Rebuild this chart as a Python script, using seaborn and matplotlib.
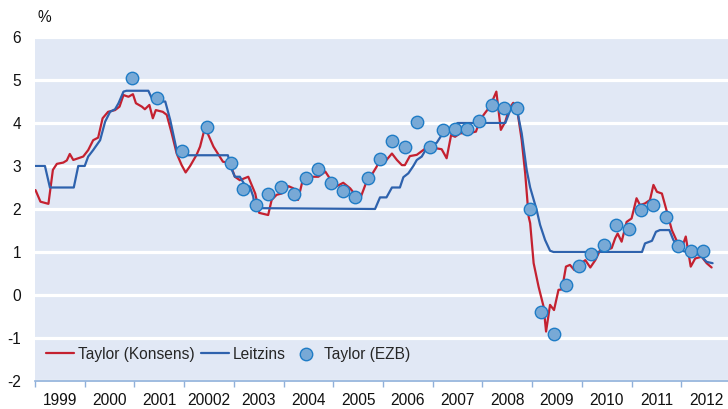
import matplotlib
matplotlib.use("Agg")
import matplotlib.pyplot as plt
import seaborn as sns

# Taylor-Zins (Konsens), time in decimal years
konsens_t = [1999.01, 1999.11, 1999.27, 1999.36, 1999.44, 1999.57, 1999.64, 1999.70, 1999.77, 1999.87,
             1999.97, 2000.07, 2000.17, 2000.27, 2000.36, 2000.47, 2000.61, 2000.70, 2000.78, 2000.88,
             2000.97, 2001.03, 2001.15, 2001.21, 2001.30, 2001.37, 2001.43, 2001.57, 2001.65, 2001.75,
             2001.85, 2001.95, 2002.03, 2002.12, 2002.25, 2002.32, 2002.42, 2002.59, 2002.78, 2002.92,
             2003.02, 2003.12, 2003.29, 2003.43, 2003.51, 2003.69, 2003.76, 2003.86, 2003.96, 2004.10,
             2004.20, 2004.29, 2004.37, 2004.45, 2004.70, 2004.84, 2004.97, 2005.07, 2005.20, 2005.34,
             2005.47, 2005.56, 2005.67, 2005.77, 2005.87, 2005.94, 2006.04, 2006.18, 2006.28, 2006.38,
             2006.44, 2006.54, 2006.68, 2006.81, 2006.95, 2007.08, 2007.18, 2007.28, 2007.37, 2007.45,
             2007.55, 2007.75, 2007.87, 2007.95, 2008.05, 2008.15, 2008.28, 2008.37, 2008.46, 2008.54,
             2008.62, 2008.69, 2008.79, 2008.86, 2008.93, 2008.96, 2009.03, 2009.13, 2009.23, 2009.28,
             2009.36, 2009.44, 2009.53, 2009.60, 2009.68, 2009.76, 2009.85, 2009.93, 2010.07, 2010.17,
             2010.27, 2010.37, 2010.50, 2010.60, 2010.67, 2010.72, 2010.80, 2010.90, 2011.00, 2011.10,
             2011.17, 2011.27, 2011.37, 2011.44, 2011.51, 2011.61, 2011.71, 2011.81, 2011.90, 2012.01,
             2012.09, 2012.19, 2012.28, 2012.41, 2012.51, 2012.61]
konsens_v = [2.44, 2.17, 2.12, 2.91, 3.05, 3.08, 3.13, 3.28, 3.14, 3.18,
             3.22, 3.37, 3.60, 3.66, 4.11, 4.26, 4.30, 4.38, 4.65, 4.61,
             4.67, 4.46, 4.38, 4.32, 4.42, 4.11, 4.30, 4.26, 4.19, 3.76,
             3.29, 3.02, 2.85, 3.00, 3.26, 3.45, 3.90, 3.45, 3.10, 3.07,
             2.75, 2.67, 2.75, 2.36, 1.91, 1.86, 2.21, 2.33, 2.36, 2.53,
             2.48, 2.21, 2.60, 2.75, 2.75, 2.87, 2.64, 2.53, 2.61, 2.48,
             2.29, 2.30, 2.64, 2.79, 2.98, 3.14, 3.10, 3.29, 3.14, 3.02,
             3.02, 3.23, 3.26, 3.37, 3.49, 3.41, 3.39, 3.18, 3.72, 3.68,
             3.76, 3.77, 3.80, 4.07, 4.23, 4.38, 4.73, 3.84, 4.03, 4.34,
             4.47, 4.38, 3.60, 2.83, 1.82, 1.67, 0.74, 0.19, -0.27, -0.85,
             -0.23, -0.35, 0.12, 0.13, 0.66, 0.70, 0.58, 0.70, 0.81, 0.64,
             0.81, 1.05, 1.05, 1.09, 1.32, 1.43, 1.24, 1.70, 1.78, 2.25,
             2.09, 2.13, 2.21, 2.56, 2.40, 2.36, 1.94, 1.51, 1.28, 1.09,
             1.36, 0.66, 0.85, 0.89, 0.74, 0.64]

# Leitzins (EZB)
leitzins_t = [1999.00, 1999.20, 1999.30, 1999.78, 1999.87, 2000.00, 2000.07, 2000.17, 2000.31, 2000.41,
              2000.51, 2000.61, 2000.68, 2000.78, 2000.84, 2001.28, 2001.38, 2001.62, 2001.72, 2001.85,
              2001.92, 2002.88, 2002.96, 2003.02, 2003.12, 2003.22, 2003.32, 2003.39, 2003.42, 2005.84,
              2005.94, 2006.07, 2006.18, 2006.34, 2006.41, 2006.51, 2006.61, 2006.68, 2006.78, 2006.85,
              2006.95, 2007.08, 2007.18, 2007.32, 2007.50, 2008.46, 2008.56, 2008.69, 2008.79, 2008.89,
              2008.96, 2009.09, 2009.16, 2009.26, 2009.36, 2009.43, 2011.21, 2011.27, 2011.41, 2011.49,
              2011.57, 2011.76, 2011.84, 2011.94, 2012.04, 2012.38, 2012.51, 2012.63]
leitzins_v = [3.00, 3.00, 2.50, 2.50, 3.00, 3.00, 3.22, 3.37, 3.60, 4.03,
              4.26, 4.32, 4.46, 4.73, 4.75, 4.75, 4.50, 4.50, 4.07, 3.37,
              3.25, 3.25, 2.91, 2.75, 2.75, 2.56, 2.52, 2.29, 2.02, 2.00,
              2.27, 2.27, 2.50, 2.50, 2.74, 2.83, 3.00, 3.14, 3.22, 3.36,
              3.47, 3.54, 3.72, 3.80, 4.00, 4.00, 4.30, 4.34, 3.76, 2.91,
              2.50, 1.98, 1.63, 1.28, 1.03, 1.00, 1.00, 1.20, 1.26, 1.47,
              1.51, 1.51, 1.28, 1.12, 1.02, 0.93, 0.77, 0.74]

# Taylor (EZB) - quarterly points
ezb_t = [2000.95, 2001.45, 2001.95, 2002.45, 2002.94, 2003.19, 2003.44, 2003.69, 2003.94, 2004.20,
         2004.45, 2004.69, 2004.95, 2005.19, 2005.44, 2005.69, 2005.94, 2006.19, 2006.44, 2006.69,
         2006.94, 2007.20, 2007.44, 2007.69, 2007.93, 2008.19, 2008.44, 2008.69, 2008.95, 2009.18,
         2009.44, 2009.68, 2009.94, 2010.19, 2010.44, 2010.69, 2010.94, 2011.19, 2011.44, 2011.69,
         2011.94, 2012.19, 2012.44]
ezb_v = [5.04, 4.57, 3.35, 3.91, 3.06, 2.46, 2.09, 2.36, 2.52, 2.34,
         2.71, 2.94, 2.61, 2.42, 2.29, 2.71, 3.16, 3.58, 3.44, 4.02,
         3.45, 3.84, 3.87, 3.85, 4.05, 4.42, 4.35, 4.36, 1.99, -0.39,
         -0.91, 0.23, 0.67, 0.95, 1.16, 1.63, 1.53, 1.98, 2.09, 1.82,
         1.15, 1.03, 1.03]

years = list(range(1999, 2014))
year_labels = ["1999", "2000", "2001", "20002", "2003", "2004", "2005", "2006",
               "2007", "2008", "2009", "2010", "2011", "2012"]

sns.set_style("white")
plt.rcParams['font.family'] = ['Liberation Sans', 'DejaVu Sans']

bg = '#E1E8F5'
axis_col = '#8FB0DA'
red = '#C42130'
blue = '#2E62AD'
fs = 11.2

fig = plt.figure(figsize=(7.28, 4.09), dpi=100)
ax = fig.add_axes([35 / 728, 28 / 409, 696 / 728, 344 / 409])
ax.set_facecolor(bg)

sns.lineplot(x=konsens_t, y=konsens_v, color=red, linewidth=1.6, label='Taylor (Konsens)', ax=ax, zorder=3)
sns.lineplot(x=leitzins_t, y=leitzins_v, color=blue, linewidth=1.6, label='Leitzins', ax=ax, zorder=4)
sns.scatterplot(x=ezb_t, y=ezb_v, color='#78A9D6', edgecolor='#1F7CC6', linewidth=1.0,
                s=80, label='Taylor (EZB)', ax=ax, zorder=5)

ax.set_xlim(1999, 2013)
ax.set_ylim(-2, 6)
ax.set_yticks(range(-2, 7))
ax.set_yticklabels([str(v) for v in range(-2, 7)])
ax.yaxis.grid(True, color='white', linewidth=2.3)
ax.set_axisbelow(True)

# year boundaries as tick marks, labels centred between them
ax.set_xticks(years)
ax.set_xticklabels([])
ax.set_xticks([y + 0.5 for y in years[:-1]], minor=True)
ax.set_xticklabels(year_labels, minor=True)
ax.tick_params(axis='x', which='major', direction='out', length=4.5, width=1, color=axis_col, bottom=True)
ax.tick_params(axis='x', which='minor', length=0, pad=8.5, labelsize=fs, colors='#111111')
ax.tick_params(axis='y', length=0, pad=10, labelsize=fs, colors='#111111')

for s in ['top', 'right', 'left']:
    ax.spines[s].set_visible(False)
ax.spines['bottom'].set_color(axis_col)
ax.spines['bottom'].set_linewidth(1.2)

ax.set_xlabel('')
ax.set_ylabel('')
fig.text(37 / 728, 1 - 17 / 409, '%', fontsize=fs, va='center', ha='left', color='#111111')

ax.legend(loc='lower left', bbox_to_anchor=(0.0, 0.025), ncol=3, frameon=False, fontsize=fs,
          handlelength=1.8, handletextpad=0.25, columnspacing=0.4, borderaxespad=0.3)

fig.savefig('out.png', dpi=100)
